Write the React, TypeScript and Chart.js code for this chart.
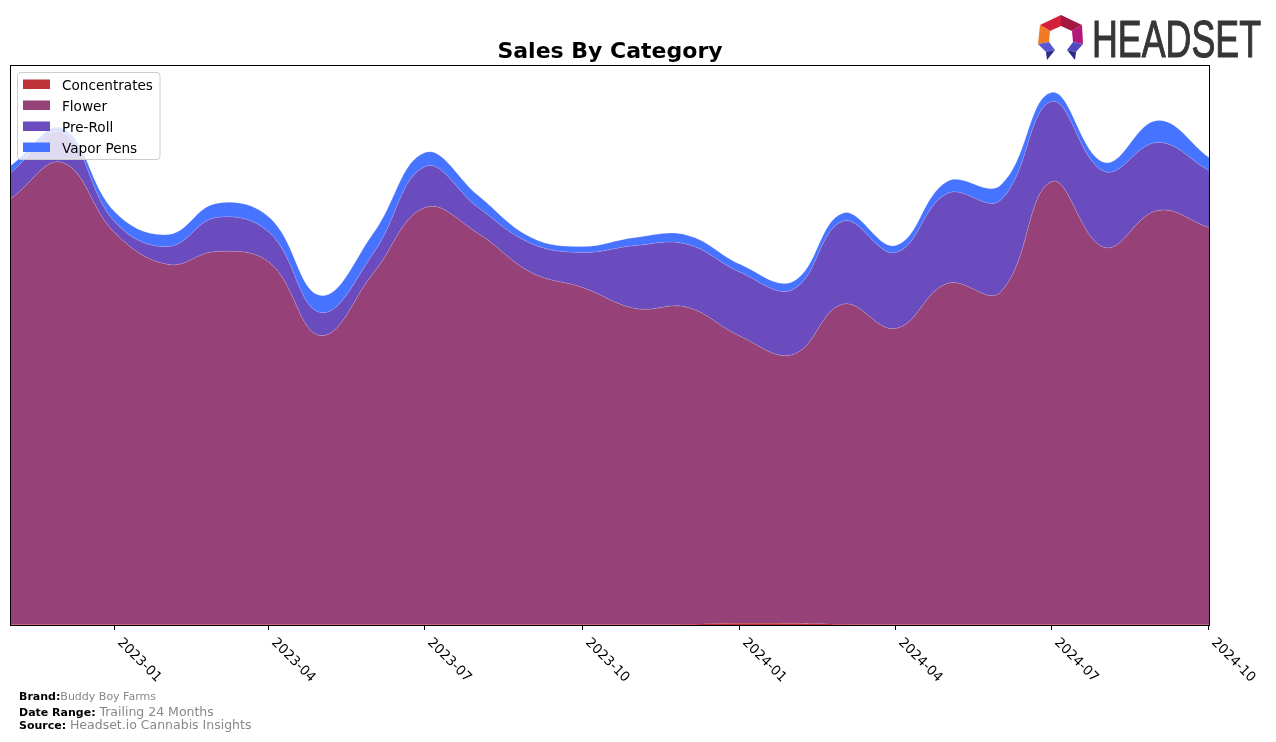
import React, { useEffect, useRef } from "react";
import { Chart, registerables } from "chart.js";

Chart.register(...registerables);

// ---- data (monthly, relative sales units) ----
const months = [
  "2022-11", "2022-12", "2023-01", "2023-02", "2023-03", "2023-04",
  "2023-05", "2023-06", "2023-07", "2023-08", "2023-09", "2023-10",
  "2023-11", "2023-12", "2024-01", "2024-02", "2024-03", "2024-04",
  "2024-05", "2024-06", "2024-07", "2024-08", "2024-09", "2024-10",
];
const concentrates = [
  0.5, 0.5, 0.5, 0.5, 0.5, 0.5, 0.5, 0.5, 0.5, 0.5, 0.5, 0.5,
  0.5, 0.8, 1.8, 1.6, 0.8, 0.5, 0.5, 0.5, 0.5, 0.5, 0.5, 0.5,
];
const flower = [
  426, 462, 391, 360, 373, 362, 289, 352, 417, 391, 352, 337,
  316, 317, 287, 269, 320, 296, 341, 332, 443, 377, 414, 397,
];
const preRoll = [
  26, 30, 11, 18, 34, 30, 23, 20, 41, 26, 29, 35,
  63, 63, 64, 65, 83, 76, 90, 92, 80, 76, 68, 57,
];
const vaporPens = [
  7, 4, 10, 12, 14, 15, 17, 20, 14, 12, 6, 6,
  8, 9, 8, 8, 8, 7, 12, 15, 9, 9, 22, 13,
];
const tickLabels = [
  "2023-01", "2023-04", "2023-07", "2023-10",
  "2024-01", "2024-04", "2024-07", "2024-10",
];
const seriesNames = ["Concentrates", "Flower", "Pre-Roll", "Vapor Pens"];
const seriesColors = ["#C0323A", "#964178", "#6A4CBF", "#4673FF"];

const DAY = 86400000;
const START = Date.UTC(2022, 10, 1);
const toDays = (ym: string) => {
  const [y, m] = ym.split("-").map(Number);
  return (Date.UTC(y, m - 1, 1) - START) / DAY;
};

const frameTicks = {
  id: "frameTicks",
  afterDraw(chart: any) {
    const { ctx, chartArea } = chart;
    const xs = chart.scales.x;
    ctx.save();
    ctx.strokeStyle = "#000";
    ctx.lineWidth = 1;
    ctx.strokeRect(
      chartArea.left - 0.5,
      chartArea.top - 0.5,
      chartArea.right - chartArea.left + 1,
      chartArea.bottom - chartArea.top + 1
    );
    ctx.fillStyle = "#000";
    ctx.font = "13.4px 'DejaVu Sans'";
    ctx.textAlign = "left";
    ctx.textBaseline = "alphabetic";
    tickLabels.forEach((lab) => {
      const px = Math.round(xs.getPixelForValue(toDays(lab)));
      ctx.beginPath();
      ctx.moveTo(px - 0.5, chartArea.bottom);
      ctx.lineTo(px - 0.5, chartArea.bottom + 5);
      ctx.stroke();
      ctx.save();
      ctx.translate(px + 2, chartArea.bottom + 18);
      ctx.rotate(Math.PI / 4);
      ctx.fillText(lab, 0, 0);
      ctx.restore();
    });
    ctx.restore();
  },
};

function HeadsetLogo() {
  return (
    <g>
      <polygon points="1040,25 1061,15 1061,26 1050,31" fill="#D3203A" />
      <polygon points="1061,15 1082,25 1072,31 1061,26" fill="#A3183E" />
      <polygon points="1040,25 1050,31 1049,42 1038,44" fill="#F07B22" />
      <polygon points="1082,25 1083,44 1073,42 1072,31" fill="#B4177B" />
      <polygon points="1038,44 1049,42 1055,50 1046,52" fill="#5B56D2" />
      <polygon points="1046,52 1055,50 1047,60" fill="#2C2D88" />
      <polygon points="1083,44 1073,42 1067,50 1076,52" fill="#5048C0" />
      <polygon points="1076,52 1067,50 1075,60" fill="#2A2B80" />
      <text
        x={1092}
        y={57}
        fontFamily="'Liberation Sans Narrow', 'Liberation Sans', sans-serif"
        fontSize={51}
        fill="#363636"
        stroke="#363636"
        strokeWidth={1.1}
        textLength={169}
        lengthAdjust="spacingAndGlyphs"
      >
        HEADSET
      </text>
    </g>
  );
}

export default function App() {
  const canvasRef = useRef<HTMLCanvasElement | null>(null);

  useEffect(() => {
    const canvas = canvasRef.current;
    if (!canvas) return;
    const all = [concentrates, flower, preRoll, vaporPens];
    const chart = new Chart(canvas, {
      type: "line",
      data: {
        datasets: all.map((vals, i) => ({
          label: seriesNames[i],
          data: months.map((m, j) => ({ x: toDays(m), y: vals[j] })),
          backgroundColor: seriesColors[i],
          borderColor: i === 0 ? seriesColors[0] : "rgba(255,255,255,0.22)",
          borderWidth: i === 0 ? 0 : 0.8,
          pointRadius: 0,
          fill: i === 0 ? "origin" : "-1",
          tension: 0.4,
        })),
      },
      options: {
        responsive: false,
        devicePixelRatio: 1,
        animation: false,
        layout: { padding: { left: 11, right: 67, top: 66, bottom: 117 } },
        plugins: {
          legend: { display: false },
          title: { display: false },
          tooltip: { enabled: false },
        },
        scales: {
          x: {
            type: "linear",
            display: false,
            min: 0,
            max: toDays("2024-10"),
          },
          y: {
            display: false,
            stacked: true,
            min: 0,
            max: 559,
          },
        },
      },
      plugins: [frameTicks],
    });
    return () => chart.destroy();
  }, []);

  const legendRows = seriesNames.map((n, i) => (
    <g key={n}>
      <rect x={23} y={79.5 + i * 21} width={27} height={9.5} fill={seriesColors[i]} />
      <text x={62} y={89.5 + i * 21} fontFamily="'DejaVu Sans'" fontSize={13.6} fill="#000">
        {n}
      </text>
    </g>
  ));

  return (
    <div style={{ position: "absolute", left: 0, top: 0, width: 1276, height: 742, background: "#fff" }}>
      <canvas ref={canvasRef} width={1276} height={742} style={{ position: "absolute", left: 0, top: 0 }} />
      <svg
        width={1276}
        height={742}
        style={{ position: "absolute", left: 0, top: 0, pointerEvents: "none" }}
      >
        <text
          x={610}
          y={57.5}
          textAnchor="middle"
          fontFamily="'DejaVu Sans'"
          fontWeight="bold"
          fontSize={22}
          fill="#000"
        >
          Sales By Category
        </text>
        <rect
          x={17.5}
          y={72.5}
          width={142.5}
          height={87}
          rx={3}
          fill="rgba(255,255,255,0.8)"
          stroke="#cccccc"
          strokeWidth={1}
        />
        {legendRows}
        <HeadsetLogo />
        <text x={19} y={700} fontFamily="'DejaVu Sans'" fontSize={11}>
          <tspan fontWeight="bold" fill="#000">Brand:</tspan>
          <tspan fill="#888">Buddy Boy Farms</tspan>
        </text>
        <text x={19} y={715.5} fontFamily="'DejaVu Sans'">
          <tspan fontWeight="bold" fill="#000" fontSize={11}>Date Range: </tspan>
          <tspan fill="#888" fontSize={12.5}>Trailing 24 Months</tspan>
        </text>
        <text x={19} y={728.5} fontFamily="'DejaVu Sans'">
          <tspan fontWeight="bold" fill="#000" fontSize={11}>Source: </tspan>
          <tspan fill="#888" fontSize={12.5}>Headset.io Cannabis Insights</tspan>
        </text>
      </svg>
    </div>
  );
}
